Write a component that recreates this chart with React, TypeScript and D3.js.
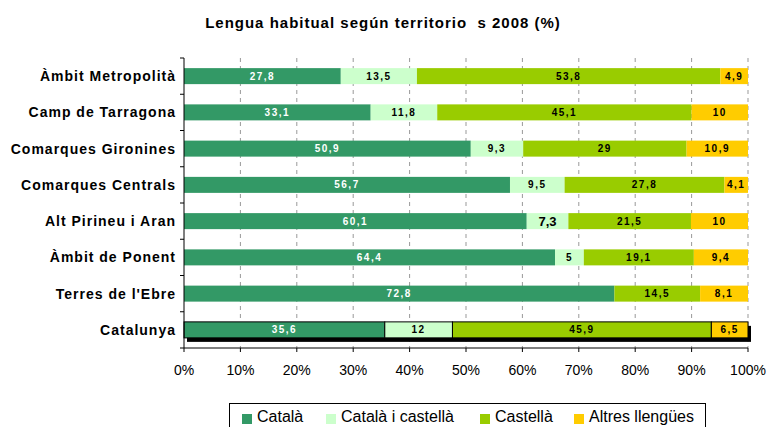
import React from "react";
import * as d3 from "d3";

const categories = [
  "Àmbit Metropolità",
  "Camp de Tarragona",
  "Comarques Gironines",
  "Comarques Centrals",
  "Alt Pirineu i Aran",
  "Àmbit de Ponent",
  "Terres de l'Ebre",
  "Catalunya",
];
const series = ["Català", "Català i castellà", "Castellà", "Altres llengües"];
const catala = [27.8, 33.1, 50.9, 56.7, 60.1, 64.4, 72.8, 35.6];
const catalaCastella = [13.5, 11.8, 9.3, 9.5, 7.3, 5, 0, 12];
const castella = [53.8, 45.1, 29, 27.8, 21.5, 19.1, 14.5, 45.9];
const altres = [4.9, 10, 10.9, 4.1, 10, 9.4, 8.1, 6.5];
const xTicks = [0, 0.1, 0.2, 0.3, 0.4, 0.5, 0.6, 0.7, 0.8, 0.9, 1];
const title = "Lengua habitual según territorio\u00a0 s 2008 (%)";

const colors = ["#339966", "#CCFFCC", "#99CC00", "#FFCC00"];
const labelColors = ["#ffffff", "#000000", "#000000", "#000000"];
const FONT = "'Liberation Sans', Arial, sans-serif";

export default function App() {
  const W = 767, H = 427;
  const left = 184, right = 748, top = 58, bottom = 348;
  const x = d3.scaleLinear().domain([0, 1]).range([left, right]);
  const y = d3.scaleBand<string>().domain(categories).range([top, bottom]).padding(0);
  const barH = 16;
  const values = [catala, catalaCastella, castella, altres];

  const rows = categories.map((c, i) => {
    const vals = values.map((s) => s[i]);
    const total = d3.sum(vals);
    let acc = 0;
    const segs = vals.map((v, k) => {
      const x0 = acc / total;
      acc += v;
      const x1 = acc / total;
      return { k, v, x0, x1 };
    });
    return { c, i, segs };
  });

  const fmt = (v: number) => String(v).replace(".", ",");

  return (
    <svg
      width={W}
      height={H}
      style={{ position: "absolute", left: 0, top: 0, background: "#fff" }}
      fontFamily={FONT}
    >
      <text x={383} y={28} textAnchor="middle" fontSize={15} fontWeight="bold" letterSpacing={1} fill="#000">
        {title}
      </text>
      {/* gridlines */}
      {xTicks.slice(1).map((t) => (
        <line key={"g" + t} x1={x(t)} x2={x(t)} y1={top} y2={bottom} stroke="#999" strokeDasharray="4,4" strokeWidth={1} />
      ))}
      {/* bars */}
      {rows.map((r) => {
        const yc = (y(r.c) as number) + y.bandwidth() / 2;
        const y0 = yc - barH / 2;
        const isTotal = r.c === "Catalunya";
        return (
          <g key={r.c}>
            {isTotal && (
              <rect x={x(0) + 3} y={y0 + 4} width={x(1) - x(0)} height={barH} fill="#000" />
            )}
            {r.segs.map((s) =>
              s.v > 0 ? (
                <rect
                  key={s.k}
                  x={x(s.x0)}
                  y={y0}
                  width={x(s.x1) - x(s.x0)}
                  height={barH}
                  fill={colors[s.k]}
                  stroke={isTotal ? "#000" : "none"}
                  strokeWidth={isTotal ? 1 : 0}
                />
              ) : null
            )}
            {r.segs.map((s) =>
              s.v > 0 ? (
                <text
                  key={"t" + s.k}
                  x={(x(s.x0) + x(s.x1)) / 2}
                  y={yc + (r.c === "Alt Pirineu i Aran" && s.k === 1 ? 5 : 3.5)}
                  textAnchor="middle"
                  fontSize={r.c === "Alt Pirineu i Aran" && s.k === 1 ? 13 : 10}
                  fontWeight="bold"
                  letterSpacing={r.c === "Alt Pirineu i Aran" && s.k === 1 ? 0 : 1.5}
                  fill={labelColors[s.k]}
                >
                  {fmt(s.v)}
                </text>
              ) : null
            )}
          </g>
        );
      })}
      {/* y axis */}
      <line x1={left} x2={left} y1={top} y2={bottom} stroke="#000" />
      {categories.map((c, i) => (
        <line key={"yt" + i} x1={left - 4} x2={left} y1={(y(c) as number) + y.bandwidth()} y2={(y(c) as number) + y.bandwidth()} stroke="#000" />
      ))}
      <line x1={left - 4} x2={left} y1={top} y2={top} stroke="#000" />
      {categories.map((c) => (
        <text
          key={"yl" + c}
          x={176}
          y={(y(c) as number) + y.bandwidth() / 2 + 5}
          textAnchor="end"
          fontSize={14}
          fontWeight="bold"
          letterSpacing={1}
          fill="#000"
        >
          {c}
        </text>
      ))}
      {/* x axis */}
      <line x1={left} x2={right} y1={bottom} y2={bottom} stroke="#000" />
      {xTicks.map((t) => (
        <g key={"xt" + t}>
          <line x1={x(t)} x2={x(t)} y1={bottom} y2={bottom + 4} stroke="#000" />
          <text x={x(t)} y={bottom + 27} textAnchor="middle" fontSize={14} fill="#000">
            {d3.format(".0%")(t)}
          </text>
        </g>
      ))}
      {/* legend */}
      <rect x={229.5} y={403.5} width={476} height={30} fill="#fff" stroke="#000" />
      {series.map((s, i) => {
        const lx = [242, 326, 480, 574][i];
        return (
          <g key={s}>
            <rect x={lx} y={414} width={10} height={10} fill={colors[i]} />
            <text x={lx + 15} y={422} fontSize={16} fill="#000">
              {s}
            </text>
          </g>
        );
      })}
    </svg>
  );
}
